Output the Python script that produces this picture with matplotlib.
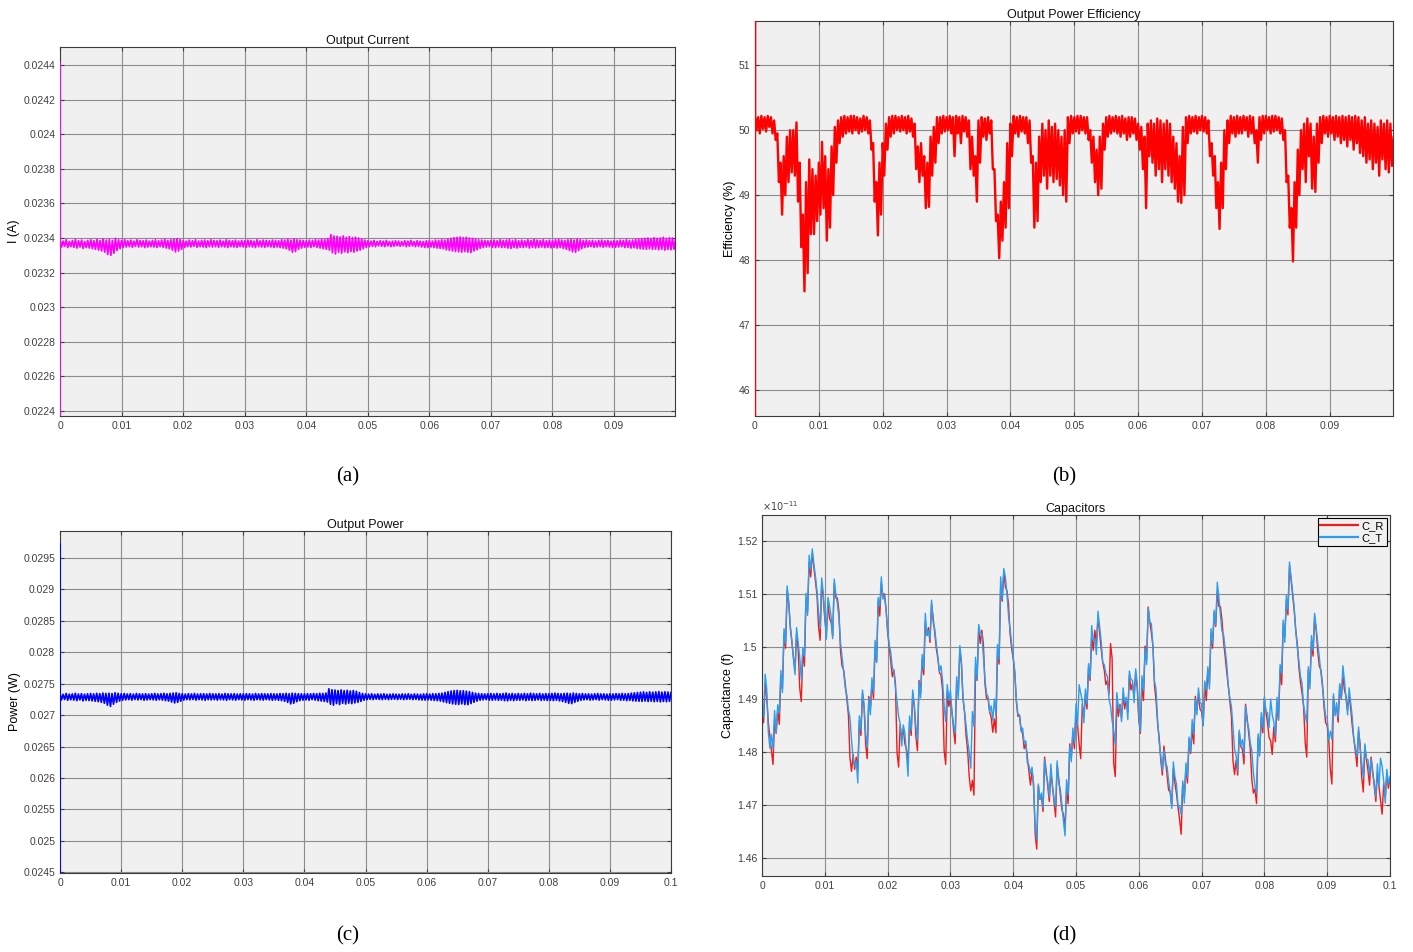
"""Four-panel simulation traces: output current, efficiency, output power, capacitors.
Each trace is noisy, so it is kept as the high / low reading of every 0.5 ms bin."""
import numpy as np
import matplotlib
matplotlib.use("Agg")
import matplotlib.pyplot as plt
from matplotlib.ticker import FuncFormatter

# ---- data: 0.5 ms bins, t = 0 .. 100 ms ----
BIN_MS = 0.5
# start-up transient at t = 0: from rest, overshoot, then the first bin
CURRENT_START_A = [0.0, 0.02441]
EFF_START_PCT = [0.0, 52.0]
POWER_START_W = [0.0, 0.02972]

CURRENT_HI_UA = [
    23388, 23382, 23390, 23380, 23385, 23392, 23384, 23388, 23380, 23386,
    23390, 23384, 23392, 23386, 23395, 23388, 23392, 23386, 23398, 23390,
    23386, 23390, 23384, 23388, 23382, 23390, 23386, 23384, 23388, 23382,
    23386, 23390, 23384, 23388, 23392, 23386, 23390, 23394, 23396, 23390,
    23386, 23382, 23388, 23384, 23390, 23382, 23386, 23388, 23384, 23390,
    23386, 23384, 23388, 23382, 23390, 23386, 23384, 23388, 23382, 23386,
    23384, 23388, 23386, 23382, 23390, 23384, 23388, 23386, 23384, 23388,
    23386, 23384, 23390, 23388, 23392, 23388, 23394, 23390, 23388, 23386,
    23384, 23388, 23386, 23390, 23388, 23392, 23390, 23396, 23420, 23412,
    23410, 23406, 23412, 23404, 23408, 23402, 23405, 23400, 23394, 23388,
    23384, 23382, 23386, 23380, 23384, 23382, 23386, 23380, 23382, 23384,
    23382, 23380, 23384, 23382, 23386, 23380, 23384, 23382, 23380, 23384,
    23386, 23382, 23388, 23386, 23390, 23388, 23394, 23398, 23402, 23404,
    23406, 23402, 23404, 23400, 23398, 23394, 23390, 23388, 23386, 23384,
    23386, 23388, 23384, 23390, 23386, 23388, 23392, 23386, 23390, 23384,
    23388, 23384, 23390, 23386, 23392, 23388, 23386, 23390, 23384, 23388,
    23386, 23390, 23392, 23388, 23386, 23390, 23392, 23388, 23394, 23390,
    23386, 23388, 23384, 23386, 23382, 23386, 23388, 23384, 23386, 23382,
    23386, 23384, 23388, 23386, 23390, 23386, 23388, 23392, 23394, 23396,
    23398, 23400, 23396, 23402, 23398, 23400, 23404, 23398, 23402, 23400,
    23398,
]
CURRENT_LO_UA = [
    23348, 23352, 23345, 23350, 23346, 23342, 23348, 23340, 23345, 23342,
    23338, 23335, 23330, 23325, 23318, 23305, 23300, 23312, 23328, 23338,
    23345, 23348, 23350, 23346, 23352, 23348, 23350, 23345, 23348, 23350,
    23348, 23345, 23350, 23346, 23342, 23338, 23330, 23320, 23325, 23335,
    23345, 23350, 23348, 23352, 23346, 23350, 23348, 23345, 23350, 23348,
    23350, 23346, 23350, 23348, 23345, 23350, 23348, 23346, 23350, 23348,
    23346, 23350, 23348, 23345, 23350, 23348, 23346, 23350, 23348, 23345,
    23348, 23345, 23342, 23338, 23330, 23318, 23322, 23335, 23342, 23346,
    23348, 23345, 23350, 23346, 23342, 23338, 23335, 23330, 23315, 23308,
    23318, 23312, 23320, 23315, 23322, 23318, 23325, 23330, 23338, 23345,
    23350, 23352, 23350, 23355, 23352, 23350, 23354, 23350, 23352, 23355,
    23352, 23355, 23350, 23352, 23354, 23350, 23352, 23348, 23346, 23345,
    23348, 23345, 23342, 23340, 23338, 23332, 23328, 23325, 23322, 23320,
    23318, 23322, 23318, 23316, 23325, 23332, 23340, 23345, 23348, 23350,
    23346, 23345, 23348, 23345, 23346, 23342, 23340, 23345, 23342, 23346,
    23345, 23348, 23342, 23346, 23343, 23345, 23348, 23344, 23346, 23343,
    23345, 23342, 23345, 23340, 23335, 23328, 23320, 23318, 23328, 23338,
    23345, 23348, 23350, 23346, 23348, 23350, 23346, 23350, 23348, 23345,
    23346, 23348, 23350, 23345, 23346, 23342, 23344, 23340, 23338, 23336,
    23335, 23338, 23334, 23336, 23332, 23335, 23330, 23334, 23332, 23335,
    23334,
]

POWER_HI_UW = [
    27340, 27332, 27345, 27335, 27338, 27348, 27336, 27342, 27334, 27340,
    27345, 27338, 27348, 27342, 27352, 27346, 27350, 27344, 27356, 27348,
    27340, 27345, 27338, 27342, 27335, 27345, 27340, 27338, 27342, 27336,
    27340, 27346, 27338, 27342, 27348, 27340, 27346, 27352, 27356, 27346,
    27340, 27335, 27342, 27338, 27345, 27336, 27340, 27342, 27338, 27345,
    27340, 27338, 27342, 27335, 27345, 27340, 27338, 27342, 27336, 27340,
    27338, 27342, 27340, 27336, 27345, 27338, 27342, 27340, 27338, 27342,
    27340, 27338, 27345, 27342, 27348, 27342, 27350, 27346, 27342, 27340,
    27338, 27342, 27340, 27345, 27342, 27348, 27346, 27352, 27420, 27405,
    27400, 27392, 27402, 27390, 27396, 27385, 27392, 27380, 27360, 27345,
    27338, 27335, 27340, 27332, 27338, 27335, 27340, 27332, 27335, 27338,
    27335, 27332, 27338, 27335, 27340, 27332, 27338, 27335, 27332, 27338,
    27340, 27336, 27342, 27340, 27346, 27350, 27362, 27375, 27385, 27392,
    27395, 27388, 27390, 27382, 27375, 27362, 27350, 27345, 27340, 27338,
    27340, 27345, 27338, 27346, 27340, 27344, 27352, 27340, 27346, 27338,
    27345, 27338, 27346, 27340, 27350, 27344, 27340, 27346, 27338, 27344,
    27340, 27346, 27350, 27344, 27340, 27346, 27350, 27344, 27352, 27346,
    27340, 27344, 27338, 27340, 27335, 27340, 27344, 27338, 27340, 27335,
    27340, 27338, 27344, 27340, 27346, 27340, 27344, 27350, 27355, 27360,
    27365, 27370, 27362, 27372, 27365, 27370, 27375, 27366, 27372, 27368,
    27365,
]
POWER_LO_UW = [
    27245, 27250, 27238, 27246, 27240, 27232, 27244, 27228, 27238, 27234,
    27228, 27222, 27215, 27205, 27190, 27160, 27140, 27175, 27205, 27225,
    27238, 27244, 27248, 27240, 27250, 27244, 27248, 27238, 27244, 27248,
    27244, 27238, 27246, 27240, 27232, 27225, 27210, 27195, 27205, 27222,
    27240, 27248, 27244, 27250, 27240, 27248, 27244, 27238, 27248, 27244,
    27248, 27240, 27248, 27244, 27238, 27248, 27244, 27240, 27248, 27244,
    27240, 27248, 27244, 27238, 27248, 27244, 27240, 27248, 27244, 27238,
    27244, 27238, 27232, 27222, 27205, 27180, 27190, 27215, 27232, 27240,
    27244, 27238, 27248, 27240, 27232, 27225, 27220, 27210, 27175, 27160,
    27185, 27170, 27190, 27178, 27192, 27184, 27196, 27205, 27220, 27238,
    27248, 27252, 27248, 27255, 27250, 27248, 27254, 27248, 27252, 27255,
    27250, 27255, 27248, 27252, 27254, 27248, 27252, 27245, 27242, 27240,
    27245, 27240, 27235, 27232, 27225, 27212, 27200, 27190, 27180, 27175,
    27172, 27180, 27170, 27168, 27185, 27205, 27225, 27238, 27244, 27248,
    27240, 27238, 27244, 27238, 27240, 27232, 27228, 27238, 27232, 27240,
    27238, 27244, 27232, 27240, 27234, 27238, 27244, 27236, 27240, 27234,
    27238, 27232, 27238, 27228, 27218, 27205, 27190, 27185, 27205, 27222,
    27238, 27244, 27248, 27240, 27244, 27248, 27240, 27248, 27244, 27238,
    27240, 27244, 27248, 27238, 27240, 27232, 27236, 27228, 27225, 27222,
    27220, 27225, 27218, 27222, 27215, 27220, 27212, 27218, 27215, 27220,
    27218,
]

EFF_HI_PCT = [
    50.22, 50.20, 50.22, 50.20, 50.22, 50.20, 50.15, 49.95, 49.50, 49.60,
    49.90, 50.00, 50.00, 50.12, 49.50, 48.70, 49.20, 49.55, 49.40, 49.30,
    49.50, 49.82, 49.60, 49.40, 49.75, 50.05, 50.15, 50.20, 50.22, 50.20,
    50.22, 50.22, 50.20, 50.18, 50.22, 50.20, 50.15, 49.80, 49.20, 49.50,
    49.80, 50.10, 50.20, 50.22, 50.22, 50.20, 50.22, 50.20, 50.22, 50.18,
    50.10, 49.75, 49.80, 49.60, 49.50, 49.90, 50.05, 50.20, 50.20, 50.22,
    50.20, 50.22, 50.20, 50.22, 50.20, 50.22, 50.20, 50.15, 49.90, 49.60,
    50.15, 50.20, 50.18, 50.20, 50.15, 49.40, 48.70, 48.90, 49.20, 49.80,
    50.10, 50.22, 50.20, 50.22, 50.20, 50.20, 50.15, 49.60, 49.50, 49.90,
    50.10, 50.00, 50.15, 50.05, 50.10, 50.00, 49.90, 50.00, 50.20, 50.22,
    50.20, 50.22, 50.22, 50.20, 50.20, 50.00, 49.90, 49.70, 49.90, 50.10,
    50.20, 50.22, 50.20, 50.22, 50.20, 50.22, 50.18, 50.20, 50.20, 50.18,
    50.10, 50.05, 49.90, 50.10, 50.15, 50.10, 50.18, 50.15, 50.10, 50.15,
    50.10, 49.90, 49.80, 49.60, 50.05, 50.20, 50.22, 50.20, 50.22, 50.20,
    50.22, 50.20, 50.15, 49.80, 49.60, 49.20, 49.50, 50.00, 50.15, 50.22,
    50.20, 50.22, 50.20, 50.22, 50.20, 50.22, 50.20, 50.00, 50.20, 50.22,
    50.22, 50.20, 50.22, 50.22, 50.20, 50.18, 50.00, 49.30, 48.80, 49.20,
    49.70, 50.00, 50.10, 50.18, 50.10, 49.90, 50.10, 50.20, 50.22, 50.20,
    50.22, 50.20, 50.22, 50.20, 50.22, 50.20, 50.22, 50.20, 50.22, 50.20,
    50.15, 50.20, 50.10, 50.15, 50.10, 50.05, 50.15, 50.10, 50.15, 50.10,
    49.90,
]
EFF_LO_PCT = [
    50.00, 49.95, 50.02, 49.98, 50.05, 49.95, 49.85, 49.20, 48.70, 49.00,
    49.20, 49.35, 49.30, 48.90, 48.20, 47.52, 47.80, 48.40, 48.40, 48.60,
    48.70, 48.80, 48.30, 48.50, 49.00, 49.50, 49.80, 49.90, 49.95, 49.98,
    49.95, 50.00, 49.95, 49.98, 50.00, 49.95, 49.70, 48.90, 48.38, 48.70,
    49.30, 49.70, 49.90, 49.95, 50.00, 49.98, 50.00, 49.95, 49.98, 49.90,
    49.40, 49.20, 49.30, 48.80, 48.82, 49.30, 49.50, 49.80, 49.95, 49.98,
    50.00, 49.95, 49.60, 49.95, 49.80, 49.98, 49.90, 49.40, 49.30, 48.90,
    49.50, 49.90, 49.85, 49.95, 49.40, 48.60, 48.03, 48.30, 48.50, 48.80,
    49.60, 49.95, 49.90, 49.98, 49.95, 49.80, 49.50, 48.50, 48.60, 49.20,
    49.30, 49.10, 49.30, 49.20, 49.25, 49.15, 49.00, 48.90, 49.80, 49.95,
    49.98, 49.95, 50.00, 49.95, 49.85, 49.50, 49.20, 49.00, 49.10, 49.70,
    49.90, 49.95, 49.98, 49.95, 49.90, 49.95, 49.85, 49.90, 49.95, 49.85,
    49.70, 49.40, 48.80, 49.60, 49.50, 49.30, 49.40, 49.20, 49.40, 49.30,
    49.20, 49.10, 48.90, 48.88, 49.00, 49.80, 49.95, 49.98, 49.95, 50.00,
    49.98, 49.95, 49.60, 49.30, 48.80, 48.48, 48.80, 49.40, 49.80, 49.95,
    49.90, 49.95, 49.95, 50.00, 49.90, 49.95, 49.80, 49.50, 49.85, 49.95,
    50.00, 49.95, 49.98, 50.00, 49.95, 49.85, 49.20, 48.50, 47.98, 48.50,
    49.00, 49.40, 49.20, 49.60, 49.10, 49.05, 49.50, 49.80, 49.95, 49.90,
    49.95, 49.85, 49.90, 49.80, 49.85, 49.75, 49.85, 49.70, 49.80, 49.65,
    49.60, 49.50, 49.55, 49.40, 49.50, 49.30, 49.55, 49.40, 49.35, 49.45,
    49.50,
]

# capacitances in fF (1e-15 F); the panel shows them in units of 1e-11 F
C_T_HI_FF = [
    14895, 14948, 14838, 14834, 14879, 14890, 14955, 15034, 15115, 15040,
    14977, 15036, 14980, 14998, 15101, 15173, 15185, 15134, 15065, 15130,
    15056, 15093, 15057, 15128, 15082, 15008, 14952, 14909, 14866, 14789,
    14784, 14869, 14918, 14837, 14901, 14941, 15012, 15093, 15132, 15097,
    15032, 14989, 14952, 14896, 14854, 14852, 14797, 14869, 14918, 14850,
    14933, 14985, 15063, 15030, 15088, 15034, 14981, 14964, 14888, 14928,
    14917, 14852, 14943, 15002, 14905, 14850, 14800, 14877, 14980, 15042,
    15025, 14939, 14905, 14888, 14901, 15004, 15132, 15148, 15101, 15034,
    14981, 14900, 14869, 14846, 14822, 14776, 14772, 14662, 14740, 14723,
    14787, 14744, 14778, 14713, 14784, 14730, 14670, 14748, 14812, 14846,
    14892, 14928, 14898, 14920, 14968, 15040, 15015, 15067, 15012, 14966,
    14943, 14888, 14842, 14913, 14888, 14922, 14904, 14954, 14936, 14958,
    14867, 14945, 14996, 15073, 15044, 14935, 14860, 14793, 14804, 14774,
    14724, 14782, 14740, 14698, 14746, 14780, 14829, 14862, 14901, 14922,
    14892, 14935, 14962, 15034, 15069, 15122, 15059, 15023, 14968, 14903,
    14848, 14793, 14842, 14824, 14888, 14846, 14803, 14738, 14835, 14875,
    14905, 14875, 14901, 14858, 14904, 14966, 15050, 15097, 15160, 15103,
    15028, 14972, 14930, 14871, 14962, 15021, 15063, 15008, 14952, 14896,
    14866, 14840, 14911, 14894, 14930, 14964, 14901, 14922, 14866, 14808,
    14848, 14780, 14816, 14786, 14787, 14744, 14778, 14789, 14746, 14768,
    14755,
]
C_T_LO_FF = [
    14867, 14920, 14808, 14806, 14837, 14874, 14913, 15006, 15087, 15012,
    14947, 15008, 14938, 14982, 15059, 15145, 15157, 15106, 15035, 15102,
    15014, 15077, 15015, 15100, 15054, 14980, 14922, 14881, 14824, 14773,
    14742, 14841, 14890, 14809, 14871, 14913, 14970, 15077, 15090, 15069,
    15004, 14961, 14922, 14868, 14812, 14836, 14755, 14841, 14890, 14822,
    14903, 14957, 15021, 15014, 15046, 15006, 14953, 14936, 14858, 14900,
    14875, 14836, 14901, 14974, 14877, 14822, 14770, 14849, 14938, 15026,
    14983, 14911, 14877, 14860, 14871, 14976, 15090, 15132, 15059, 15006,
    14953, 14872, 14839, 14818, 14780, 14760, 14730, 14634, 14712, 14695,
    14757, 14716, 14736, 14697, 14742, 14702, 14642, 14720, 14782, 14818,
    14850, 14912, 14856, 14892, 14940, 15012, 14985, 15039, 14970, 14950,
    14901, 14860, 14814, 14885, 14858, 14894, 14862, 14938, 14894, 14930,
    14839, 14917, 14966, 15045, 15002, 14919, 14818, 14765, 14776, 14746,
    14694, 14754, 14698, 14682, 14704, 14752, 14801, 14834, 14871, 14894,
    14850, 14919, 14920, 15006, 15041, 15094, 15029, 14995, 14926, 14887,
    14806, 14765, 14814, 14796, 14858, 14818, 14761, 14722, 14793, 14847,
    14877, 14847, 14871, 14830, 14862, 14950, 15008, 15069, 15132, 15075,
    14998, 14944, 14888, 14855, 14920, 14993, 15035, 14980, 14922, 14868,
    14824, 14824, 14869, 14866, 14902, 14936, 14871, 14894, 14824, 14792,
    14806, 14752, 14788, 14758, 14757, 14716, 14736, 14773, 14704, 14740,
    14727,
]
C_R_HI_FF = [
    14882, 14931, 14856, 14805, 14862, 14881, 14946, 15025, 15107, 15036,
    14981, 15025, 14922, 14991, 15091, 15160, 15177, 15126, 15038, 15120,
    15052, 15081, 15046, 15120, 15092, 14991, 14956, 14900, 14790, 14796,
    14791, 14860, 14912, 14816, 14906, 14930, 14997, 15086, 15121, 15100,
    15027, 14971, 14956, 14800, 14852, 14844, 14806, 14860, 14912, 14831,
    14936, 14975, 15047, 15036, 15081, 15025, 14977, 14946, 14803, 14915,
    14902, 14844, 14936, 14995, 14902, 14831, 14753, 14747, 14962, 15034,
    15031, 14930, 14902, 14866, 14863, 14995, 15112, 15141, 15106, 15025,
    14977, 14896, 14871, 14835, 14817, 14766, 14766, 14645, 14737, 14716,
    14791, 14735, 14762, 14706, 14776, 14720, 14682, 14731, 14816, 14835,
    14877, 14816, 14891, 14910, 14962, 15021, 15031, 15055, 14997, 14956,
    14936, 15006, 14780, 14896, 14891, 14910, 14902, 14946, 14931, 14950,
    14862, 14926, 15001, 15075, 15027, 14926, 14854, 14785, 14812, 14756,
    14726, 14770, 14722, 14673, 14741, 14770, 14824, 14844, 14906, 14910,
    14877, 14926, 14956, 15025, 15064, 15104, 15076, 15010, 14952, 14896,
    14784, 14785, 14837, 14806, 14891, 14835, 14749, 14731, 14828, 14865,
    14902, 14856, 14822, 14848, 14887, 14956, 15044, 15088, 15152, 15096,
    15031, 14960, 14912, 14819, 14956, 15010, 15057, 14991, 14956, 14885,
    14850, 14768, 14906, 14885, 14927, 14946, 14906, 14910, 14850, 14801,
    14841, 14753, 14812, 14766, 14791, 14735, 14762, 14711, 14741, 14760,
    14752,
]
C_R_LO_FF = [
    14856, 14903, 14830, 14777, 14836, 14853, 14920, 14997, 15081, 15008,
    14955, 14997, 14896, 14963, 15065, 15132, 15151, 15098, 15012, 15092,
    15026, 15053, 15020, 15092, 15066, 14963, 14930, 14872, 14764, 14768,
    14765, 14832, 14886, 14788, 14880, 14902, 14971, 15058, 15095, 15072,
    15001, 14943, 14930, 14772, 14826, 14816, 14780, 14832, 14886, 14803,
    14910, 14947, 15021, 15008, 15055, 14997, 14951, 14918, 14777, 14887,
    14876, 14816, 14910, 14967, 14876, 14803, 14727, 14719, 14936, 15006,
    15005, 14902, 14876, 14838, 14837, 14967, 15086, 15113, 15080, 14997,
    14951, 14868, 14845, 14807, 14791, 14738, 14740, 14617, 14711, 14688,
    14765, 14707, 14736, 14678, 14750, 14692, 14656, 14703, 14790, 14807,
    14851, 14788, 14865, 14882, 14936, 14993, 15005, 15027, 14971, 14928,
    14910, 14978, 14754, 14868, 14865, 14882, 14876, 14918, 14905, 14922,
    14836, 14898, 14975, 15047, 15001, 14898, 14828, 14757, 14786, 14728,
    14700, 14742, 14696, 14645, 14715, 14742, 14798, 14816, 14880, 14882,
    14851, 14898, 14930, 14997, 15038, 15076, 15050, 14982, 14926, 14868,
    14758, 14757, 14811, 14778, 14865, 14807, 14723, 14703, 14802, 14837,
    14876, 14828, 14796, 14820, 14861, 14928, 15018, 15060, 15126, 15068,
    15005, 14932, 14886, 14791, 14930, 14982, 15031, 14963, 14930, 14857,
    14824, 14740, 14880, 14857, 14901, 14918, 14880, 14882, 14824, 14773,
    14815, 14725, 14786, 14738, 14765, 14707, 14736, 14683, 14715, 14732,
    14726,
]

# ---- style (MATLAB-like figure windows) ----
AX_BG = "#f0f0f0"
GRID = "#8c8c8c"
EDGE = "#3c3c3c"
TICK = "#404040"
plt.rcParams.update({
    "font.family": ["Liberation Sans Narrow", "Liberation Sans", "DejaVu Sans"],
    "font.size": 7.5,
    "axes.facecolor": AX_BG, "axes.edgecolor": EDGE, "axes.linewidth": 0.8,
    "xtick.color": TICK, "ytick.color": TICK,
    "xtick.labelsize": 7.5, "ytick.labelsize": 7.5,
    "xtick.direction": "in", "ytick.direction": "in",
    "xtick.major.size": 3, "ytick.major.size": 3,
    "xtick.top": True, "ytick.right": True,
})

t_bin = np.arange(len(EFF_HI_PCT)) * BIN_MS / 1000.0   # bin start, seconds
half = BIN_MS / 2000.0
fmt = FuncFormatter(lambda v, _: f"{v:g}")


def zigzag(hi, lo, scale=1.0, start=()):
    """Visit each bin's high then low reading -> the dense noisy trace."""
    x = np.empty(2 * len(hi))
    y = np.empty(2 * len(hi))
    x[0::2], x[1::2] = t_bin, t_bin + half
    y[0::2], y[1::2] = np.asarray(hi) * scale, np.asarray(lo) * scale
    x = np.concatenate([np.zeros(len(start)), x])
    y = np.concatenate([np.asarray(start, dtype=float), y])
    return x, y


def style(ax, title, ylabel, xmax, xticks):
    ax.set_title(title, fontsize=9, pad=2, color="#111111")
    ax.set_ylabel(ylabel, fontsize=9, family="Liberation Sans", labelpad=2)
    ax.set_xlim(0, xmax)
    ax.set_xticks(xticks)
    ax.xaxis.set_major_formatter(fmt)
    ax.yaxis.set_major_formatter(fmt)
    ax.grid(True, color=GRID, lw=0.8)
    ax.set_axisbelow(True)


fig = plt.figure(figsize=(14.13, 9.52), dpi=100)
fig.patch.set_facecolor("white")

# (a) output current
ax = fig.add_axes([0.0425, 0.5630, 0.4352, 0.3876])
ax.plot(*zigzag(CURRENT_HI_UA, CURRENT_LO_UA, 1e-6, CURRENT_START_A),
        color="#ff00ff", lw=1.25, zorder=3)
style(ax, "Output Current", "I (A)", 0.0999, np.arange(0, 0.0901, 0.01))
ax.set_ylim(0.022371, 0.024504)
ax.set_yticks(np.arange(0.0224, 0.02441, 0.0002))

# (b) efficiency
ax = fig.add_axes([0.5343, 0.5630, 0.4515, 0.4149])
ax.plot(*zigzag(EFF_HI_PCT, EFF_LO_PCT, 1.0, EFF_START_PCT),
        color="#ff0000", lw=1.7, zorder=3)
style(ax, "Output Power Efficiency", "Efficiency (%)", 0.0999, np.arange(0, 0.0901, 0.01))
ax.set_ylim(45.6, 51.68)
ax.set_yticks(np.arange(46, 51.5, 1))

# (c) output power
ax = fig.add_axes([0.0425, 0.0830, 0.4324, 0.3592])
ax.plot(*zigzag(POWER_HI_UW, POWER_LO_UW, 1e-6, POWER_START_W),
        color="#0000ff", lw=1.25, zorder=3)
style(ax, "Output Power", "Power (W)", 0.1, np.arange(0, 0.1001, 0.01))
ax.set_ylim(0.02449, 0.02993)
ax.set_yticks(np.arange(0.0245, 0.02951, 0.0005))

# (d) capacitors, drawn in units of 1e-11 F
ax = fig.add_axes([0.5393, 0.0798, 0.4444, 0.3792])
ax.plot(*zigzag(C_R_HI_FF, C_R_LO_FF, 1e-4), color="#ee1c1c", lw=1.0, label="C_R")
ax.plot(*zigzag(C_T_HI_FF, C_T_LO_FF, 1e-4), color="#2a9ff0", lw=1.0, label="C_T")
style(ax, "Capacitors", "Capacitance (f)", 0.1, np.arange(0, 0.1001, 0.01))
ax.set_ylim(1.4566, 1.5249)
ax.set_yticks(np.arange(1.46, 1.5201, 0.01))
ax.text(0.0, 1.005, r"$\times10^{-11}$", transform=ax.transAxes,
        fontsize=7, color=TICK, ha="left", va="bottom")
leg = ax.legend(loc="upper right", fontsize=8, handlelength=3.4,
                fancybox=False, edgecolor="black", framealpha=1,
                borderaxespad=0.3, borderpad=0.25, labelspacing=0.15,
                handletextpad=0.3)
leg.get_frame().set_linewidth(0.8)
for line in leg.get_lines():
    line.set_linewidth(1.6)

for label, x, y in [("(a)", 0.2463, 0.499), ("(b)", 0.753, 0.499),
                    ("(c)", 0.2463, 0.0168), ("(d)", 0.753, 0.0168)]:
    fig.text(x, y, label, family="Liberation Serif", fontsize=15,
             ha="center", va="center")

fig.savefig("out.png", dpi=100)
